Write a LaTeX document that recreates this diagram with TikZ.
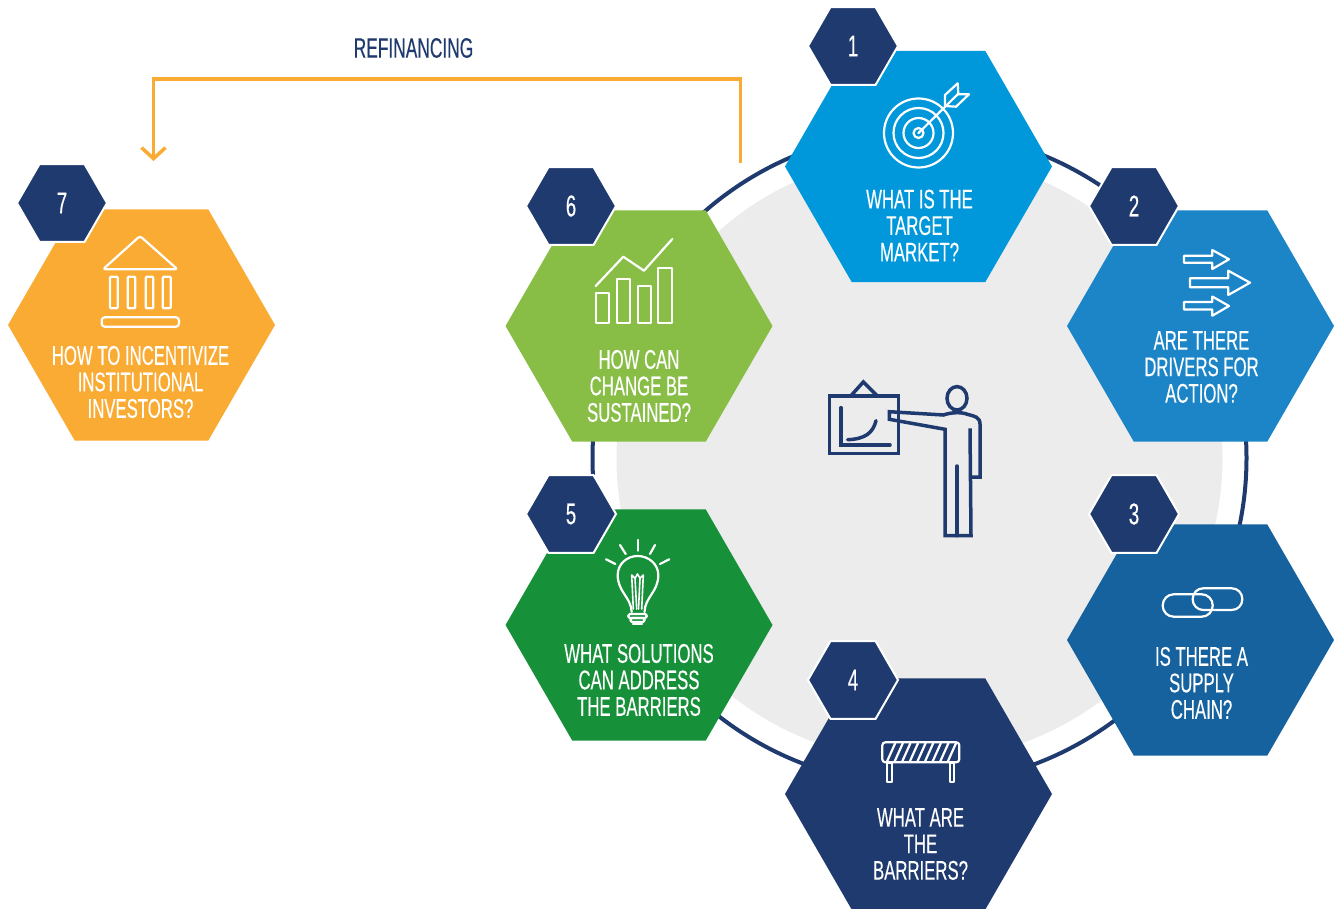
\documentclass[tikz,border=0pt]{standalone}
\usepackage{fontspec}
\setmainfont[FakeStretch=0.62,FakeBold=0.3]{Liberation Sans}
\usetikzlibrary{positioning,shapes.geometric,arrows.meta}
\definecolor{navy}{HTML}{1F3A6E}
\definecolor{refiorange}{HTML}{F9AB33}
\definecolor{paleback}{HTML}{ECECEC}
\tikzstyle{bighex} = [regular polygon, regular polygon sides=6, minimum size=267pt, inner sep=0pt, outer sep=0pt]
\tikzstyle{numhex} = [regular polygon, regular polygon sides=6, minimum size=90pt, inner sep=0pt, outer sep=0pt,
                   fill=navy, draw=white, line width=2pt, text=white, font=\fontsize{30}{30}\selectfont]
\tikzstyle{hexlabel} = [align=center, text=white, inner sep=0pt, font=\fontsize{27}{26.5}\selectfont]
\tikzstyle{icon} = [draw=white, line width=2.2pt, line join=round, line cap=round]
\tikzstyle{figure} = [draw=navy, line width=3.5pt, line join=miter]
\tikzstyle{refiarrow} = [draw=refiorange, line width=3.5pt, -{Straight Barb[length=11pt,width=24pt]}]

\begin{document}
\begin{tikzpicture}[x=1pt,y=-1pt]
		\useasboundingbox (0,0) rectangle (1336,909);

		% Background circles
		\node[circle, fill=paleback, minimum size=606pt, inner sep=0pt] (disc) at (919.5,458) {};
		\node[circle, draw=navy, line width=4pt, minimum size=654pt, inner sep=0pt] (ring) at (919.5,458) {};

		% Hexagons
		\node[bighex, fill=refiorange] (incentive) at (141.5,325) {};
		\node[bighex, fill={rgb,255:red,0;green,152;blue,218}] (target) at (918.5,166.5) {};
		\node[bighex, fill={rgb,255:red,28;green,133;blue,199}] (drivers) at (1200.5,326) {};
		\node[bighex, fill={rgb,255:red,22;green,98;blue,158}] (supply) at (1200.5,640) {};
		\node[bighex, fill=navy] (barriers) at (918.5,794) {};
		\node[bighex, fill={rgb,255:red,23;green,144;blue,58}] (solutions) at (639,625) {};
		\node[bighex, fill={rgb,255:red,136;green,189;blue,70}] (sustain) at (639,326) {};

		% Numbers
		\node[numhex] (num1) at ([shift={(-65.5,-120.5)}]target.center) {1};
		\node[numhex] (num2) at ([shift={(-66.5,-120)}]drivers.center) {2};
		\node[numhex] (num3) at ([shift={(-66.5,-126)}]supply.center) {3};
		\node[numhex] (num4) at ([shift={(-65.5,-114)}]barriers.center) {\raisebox{-3pt}{4}};
		\node[numhex] (num5) at ([shift={(-68,-111)}]solutions.center) {5};
		\node[numhex] (num6) at ([shift={(-68,-120)}]sustain.center) {6};
		\node[numhex] (num7) at ([shift={(-79.5,-122)}]incentive.center) {\raisebox{-3pt}{7}};

		% Labels
		\node[hexlabel] (targettext) at ([yshift=-59pt,xshift=1pt]target.center) {WHAT IS THE\\TARGET\\MARKET?};
		\node[hexlabel] (driverstext) at ([yshift=-41pt,xshift=1pt]drivers.center) {ARE THERE\\DRIVERS FOR\\ACTION?};
		\node[hexlabel] (supplytext) at ([yshift=-43pt,xshift=1pt]supply.center) {IS THERE A\\SUPPLY\\CHAIN?};
		\node[hexlabel] (barrierstext) at ([yshift=-50pt,xshift=2pt]barriers.center) {WHAT ARE\\THE\\BARRIERS?};
		\node[hexlabel] (solutionstext) at ([yshift=-55pt]solutions.center) {WHAT SOLUTIONS\\CAN ADDRESS\\THE BARRIERS};
		\node[hexlabel] (sustaintext) at ([yshift=-60pt]sustain.center) {HOW CAN\\CHANGE BE\\SUSTAINED?};
		\node[hexlabel] (incentivetext) at ([yshift=-57pt,xshift=-1pt]incentive.center) {HOW TO INCENTIVIZE\\INSTITUTIONAL\\INVESTORS?};

		% Refinancing arrow
		\node[text=navy, font=\fontsize{28}{28}\selectfont] (refilabel) at (413.5,48) {REFINANCING};
		\coordinate (refistart) at (740.5,163);
		\coordinate (refiend) at (153.5,161);
		\draw[refiarrow] (refistart) -- ++(0,-84) -| (refiend);

		% Target icon
		\foreach \rad in {5,15,25,34.5}
			\draw[icon] (918.5,133) circle (\rad);
		\draw[icon] (918.5,133) -- (958,94);
		\draw[icon] (945,95) -- (957.7,83.3) -- (958.3,94.3) -- (969,94.3) -- (956,106.7) -- (945,106) -- cycle;

		% Arrows icon
		\draw[icon] (1184,255.7) -- (1212.3,255.7) -- (1212.3,250) -- (1229,259.3) -- (1212.3,269) -- (1212.3,262.7) -- (1184,262.7) -- cycle;
		\draw[icon] (1190,278.3) -- (1228.3,278.3) -- (1228.3,270.7) -- (1250,282.7) -- (1228.3,295) -- (1228.3,287.3) -- (1190,287.3) -- cycle;
		\draw[icon] (1184,302) -- (1212.3,302) -- (1212.3,296.5) -- (1229,306) -- (1212.3,315.7) -- (1212.3,309.5) -- (1184,309.5) -- cycle;

		% Chain icon
		\draw[icon, rounded corners=11pt] (1162.7,594.3) rectangle (1212.7,616.7);
		\draw[icon, rounded corners=10.5pt] (1192.7,588.3) rectangle (1242.3,610);

		% Barrier icon
		\draw[icon, rounded corners=3pt] (882.3,742.3) rectangle (959.3,762.3);
		\foreach \i in {0,...,8}
			\draw[icon, line cap=butt] ({887+\i*7.6},761.5) -- ({895.3+\i*7.6},743);
		\draw[icon] (887.3,763.3) rectangle (891.7,781.7);
		\draw[icon] (950,763.3) rectangle (954.3,781.7);

		% Bulb icon
		\draw[icon] (637.7,540) -- (637.7,550.7);
		\draw[icon] (620,545) -- (625.7,554);
		\draw[icon] (655,545) -- (650,554);
		\draw[icon] (606,559.3) -- (615.3,564);
		\draw[icon] (669.3,559.3) -- (660,564);
		\draw[icon] (631.7,612) .. controls (631,597) and (617.7,592) .. (617.7,575) .. controls (617.7,564) and (627,556) .. (637.7,556)
			.. controls (648.5,556) and (658.3,564) .. (658.3,575) .. controls (658.3,592) and (645,597) .. (644.5,612);
		\draw[icon, line width=1.6pt] (633.3,609) -- (631.7,575) -- (635,578.3) -- (637.5,574) -- (640,578.3) -- (643.3,575) -- (641.7,609);
		\draw[icon, line width=1.6pt] (635,578.3) -- (636.7,609);
		\draw[icon, line width=1.6pt] (640,578.3) -- (638.5,609);
		\draw[icon, rounded corners=1.5pt] (628.3,614) rectangle (646.7,618);
		\draw[icon, rounded corners=1.5pt] (630.5,618) rectangle (644.5,622);
		\draw[icon] (633,624) -- (642,624);

		% Chart icon
		\foreach \xa/\ya/\xb in {596/293.3/609.3, 616.7/279/630, 637.7/286/651, 658.3/267.7/671.7}
			\draw[icon] (\xa,\ya) rectangle (\xb,323.3);
		\draw[icon] (595.7,286) -- (623.3,256.7) -- (644,270.7) -- (672.3,239);

		% Bank icon
		\draw[icon, rounded corners=2.5pt] (103,269.3) -- (140,236) -- (177.5,269.3) -- cycle;
		\foreach \xa/\xb in {110/117.7, 127.7/135.3, 145.7/153.3, 162.7/170.7}
			\draw[icon, rounded corners=1pt] (\xa,276.7) rectangle (\xb,308.3);
		\draw[icon, rounded corners=3pt] (101.7,317.3) rectangle (179,326.7);

		% Presenter icon
		\draw[figure] (829.3,396) rectangle (898.7,453.3);
		\draw[figure] (850.7,396) -- (863.3,382) -- (877.3,396);
		\draw[figure, line cap=round] (841,407.7) -- (841,445) -- (890,445);
		\draw[figure, line cap=round] (847.7,439.7) .. controls (865,439) and (873,433) .. (876,420.7);
		\draw[figure] (957,398.3) ellipse (10 and 11.7);
		\draw[figure] (971,477) -- (980,477) -- (980,424) .. controls (980,417) and (974,416) .. (968,414.5)
			.. controls (962,412) and (952,412) .. (943.5,415) -- (889.3,411.7) -- (889.3,419.3) -- (945,429.3) -- (945,535.7) -- (971,535.7) -- (970,428.3);
		\draw[figure, line cap=round] (957,466) -- (957,535.7);
	\end{tikzpicture}
\end{document}
